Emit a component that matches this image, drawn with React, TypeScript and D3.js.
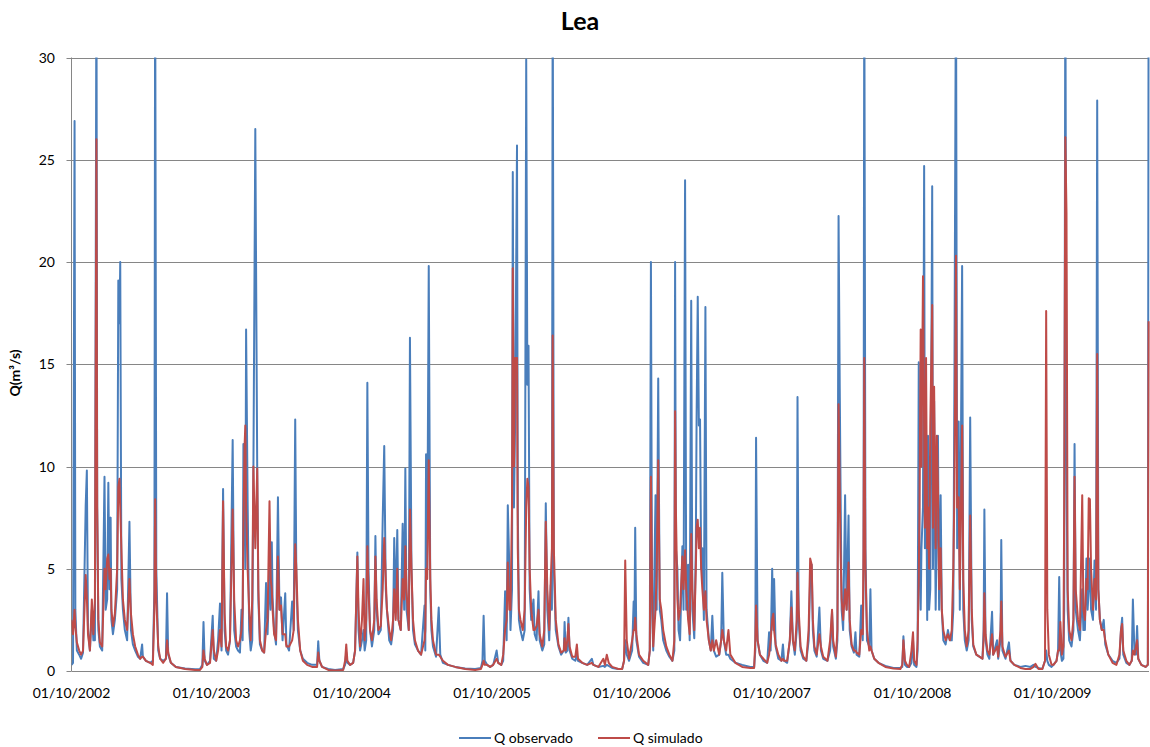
import React from "react";
import * as d3 from "d3";

// Each row: [day counted from 01/10/2002, Q observado (m³/s), Q simulado (m³/s)]
type Row = [number, number, number];

const ano2002_03: Row[] = [
  [0, 0.3, 2.5], [4, 0.4, 1.8], [8, 26.9, 3.0], [10, 3.0, 2.2], [14, 1.0, 1.4],
  [20, 0.8, 1.0], [25, 0.6, 0.8], [30, 0.9, 1.0], [37, 8.1, 4.7], [40, 9.8, 3.6],
  [43, 2.0, 1.8], [48, 1.0, 1.0], [53, 3.0, 3.5], [57, 1.5, 1.8], [61, 1.5, 3.5],
  [65, 35, 26.0], [67, 8.0, 8.0], [70, 2.0, 2.5], [74, 1.2, 1.4], [80, 1.0, 1.2],
  [86, 9.5, 5.0], [89, 3.0, 4.0], [93, 3.5, 5.5], [96, 9.2, 5.7], [99, 4.0, 4.5],
  [102, 7.5, 5.0], [104, 2.5, 3.0], [108, 1.8, 2.2], [113, 2.5, 2.8], [119, 4.0, 5.0],
  [122, 19.1, 9.0], [125, 17.0, 9.4], [127, 20.0, 8.0], [130, 4.5, 6.0], [134, 3.0, 3.5],
  [139, 2.0, 2.5], [145, 1.5, 2.0], [151, 7.3, 4.5], [155, 2.0, 2.8], [160, 1.3, 1.8],
  [166, 1.0, 1.2], [173, 0.7, 0.8], [179, 0.6, 0.6], [184, 1.3, 0.7], [186, 0.7, 0.7],
  [194, 0.5, 0.5], [205, 0.4, 0.4], [212, 0.5, 0.3], [216, 4.0, 3.0], [218, 35, 8.4],
  [221, 5.0, 3.5], [226, 1.0, 1.2], [231, 0.6, 0.6], [239, 0.5, 0.4], [246, 0.6, 0.6],
  [249, 3.8, 1.5], [252, 0.8, 0.9], [259, 0.4, 0.4], [272, 0.2, 0.2], [296, 0.12, 0.1],
  [322, 0.08, 0.05], [335, 0.1, 0.05], [341, 0.3, 0.2], [344, 2.4, 1.0], [347, 0.5, 0.6],
  [353, 0.3, 0.3], [361, 0.5, 0.4],
];

const ano2003_04: Row[] = [
  [368, 2.7, 2.0], [371, 0.6, 1.0], [377, 0.5, 0.5], [382, 1.5, 1.0], [387, 3.3, 2.0],
  [391, 1.0, 1.2], [395, 8.9, 8.3], [399, 2.0, 2.8], [403, 1.0, 1.2], [408, 0.8, 1.0],
  [413, 1.5, 1.5], [420, 11.3, 7.9], [424, 2.0, 3.5], [429, 1.2, 1.5], [434, 1.0, 1.2],
  [439, 0.9, 1.5], [443, 3.0, 2.0], [446, 1.5, 3.0], [448, 11.1, 7.0], [451, 8.0, 11.0],
  [453, 5.0, 12.0], [455, 16.7, 8.0], [459, 8.3, 5.0], [463, 2.0, 3.0], [467, 1.0, 1.5],
  [471, 1.5, 3.5], [474, 9.6, 10.0], [479, 26.5, 6.0], [484, 9.8, 9.9], [487, 3.5, 4.0],
  [491, 1.3, 1.5], [497, 1.0, 1.0], [502, 0.9, 0.9], [507, 4.3, 2.0], [511, 1.8, 2.5],
  [516, 5.0, 8.3], [519, 3.0, 4.5], [522, 6.3, 4.0], [524, 3.6, 3.0], [528, 2.0, 1.8],
  [533, 1.3, 1.5], [538, 8.5, 5.6], [542, 3.0, 3.0], [546, 3.6, 3.2], [550, 1.5, 1.8],
  [557, 3.8, 1.8], [560, 1.3, 1.2], [567, 1.0, 1.2], [575, 3.4, 1.5], [579, 2.0, 2.0],
  [583, 12.3, 6.2], [586, 4.5, 5.0], [590, 2.0, 2.5], [596, 1.0, 1.0], [603, 0.6, 0.5],
  [614, 0.4, 0.3], [627, 0.3, 0.2], [640, 0.3, 0.2], [643, 1.45, 0.9], [646, 0.5, 0.5],
  [653, 0.2, 0.2], [669, 0.1, 0.05], [687, 0.05, 0.03], [708, 0.1, 0.05], [713, 0.3, 0.5],
  [716, 0.9, 1.3], [719, 0.4, 0.5], [726, 0.3, 0.3],
];

const ano2004_05: Row[] = [
  [734, 0.4, 0.4], [739, 1.0, 1.0], [745, 5.8, 5.6], [748, 2.0, 3.0], [752, 1.0, 1.2],
  [757, 1.5, 2.5], [761, 2.0, 4.5], [764, 1.0, 1.5], [768, 1.5, 2.5], [771, 14.1, 6.1],
  [774, 5.0, 4.0], [778, 2.0, 2.0], [783, 1.2, 1.5], [789, 2.0, 2.5], [792, 6.6, 5.6],
  [795, 3.0, 3.5], [800, 1.8, 2.0], [806, 2.0, 2.2], [811, 7.4, 4.0], [815, 11.0, 6.5],
  [819, 4.0, 4.5], [822, 3.0, 3.0], [828, 1.5, 2.0], [833, 1.3, 1.5], [838, 2.0, 2.5],
  [841, 6.5, 4.0], [845, 3.0, 2.5], [849, 6.9, 5.0], [852, 2.5, 2.5], [858, 2.0, 2.0],
  [863, 7.2, 4.5], [867, 3.0, 3.5], [870, 9.9, 6.1], [873, 3.0, 4.0], [879, 2.0, 2.0],
  [882, 16.3, 7.9], [886, 5.0, 5.0], [890, 2.0, 2.5], [895, 1.3, 1.5], [903, 1.0, 1.0],
  [911, 0.8, 0.8], [920, 3.2, 1.5], [922, 1.0, 2.0], [924, 10.6, 5.0], [927, 5.0, 4.5],
  [931, 19.8, 10.3], [935, 4.0, 4.5], [938, 2.0, 2.5], [942, 1.2, 1.5], [950, 0.7, 0.8],
  [957, 3.1, 0.8], [961, 0.8, 0.7], [968, 0.4, 0.5], [981, 0.3, 0.3], [1000, 0.2, 0.2],
  [1026, 0.12, 0.1], [1052, 0.1, 0.05], [1067, 0.15, 0.1], [1071, 0.5, 0.3], [1074, 2.7, 0.5],
  [1077, 0.5, 0.3], [1083, 0.3, 0.3], [1091, 0.2, 0.2],
];

const ano2005_06: Row[] = [
  [1099, 0.3, 0.3], [1108, 1.0, 0.6], [1112, 0.4, 0.4], [1120, 0.3, 0.3], [1125, 0.5, 0.8],
  [1130, 3.9, 2.0], [1134, 1.5, 2.5], [1137, 8.1, 5.3], [1141, 5.0, 3.0], [1144, 2.0, 3.0],
  [1148, 4.0, 8.0], [1150, 24.4, 19.7], [1153, 8.0, 10.0], [1156, 12.0, 15.3], [1161, 25.7, 15.3],
  [1163, 8.0, 6.0], [1166, 2.5, 3.0], [1170, 2.0, 2.5], [1176, 1.5, 2.0], [1181, 2.0, 3.0],
  [1185, 29.9, 8.0], [1188, 14.0, 9.4], [1191, 15.9, 9.0], [1194, 4.0, 5.0], [1198, 2.5, 3.0],
  [1204, 3.5, 2.0], [1207, 1.8, 2.0], [1212, 1.5, 2.2], [1217, 3.9, 3.0], [1220, 1.5, 1.8],
  [1227, 1.0, 1.2], [1232, 1.3, 2.0], [1236, 8.2, 7.3], [1240, 3.0, 4.0], [1245, 1.5, 2.0],
  [1249, 4.2, 4.5], [1252, 3.0, 6.0], [1254, 35, 16.4], [1257, 5.0, 6.0], [1262, 2.0, 2.5],
  [1269, 1.2, 1.3], [1276, 0.8, 0.9], [1283, 1.0, 1.0], [1285, 2.4, 1.6], [1288, 0.9, 1.0],
  [1292, 1.0, 1.5], [1295, 2.6, 2.3], [1298, 1.0, 1.2], [1305, 0.6, 0.7], [1313, 0.5, 0.7],
  [1317, 0.8, 1.3], [1320, 0.5, 0.6], [1331, 0.4, 0.4], [1344, 0.3, 0.3], [1356, 0.6, 0.4],
  [1360, 0.3, 0.3], [1373, 0.2, 0.2], [1386, 0.25, 0.6], [1390, 0.2, 0.3], [1395, 0.3, 0.8],
  [1400, 0.25, 0.4], [1409, 0.15, 0.2], [1425, 0.1, 0.1], [1435, 0.1, 0.1], [1440, 0.5, 0.5],
  [1443, 1.5, 5.4], [1447, 0.8, 1.5], [1453, 0.5, 0.6],
];

const ano2006_07: Row[] = [
  [1461, 1.0, 1.5], [1465, 3.4, 2.0], [1467, 2.0, 2.0], [1469, 7.0, 2.6], [1472, 1.5, 1.8],
  [1479, 0.7, 0.8], [1490, 0.4, 0.5], [1503, 0.3, 0.3], [1507, 1.0, 1.0], [1510, 20.0, 9.5],
  [1513, 3.0, 4.0], [1516, 1.0, 1.2], [1522, 8.6, 3.0], [1525, 3.0, 5.0], [1529, 14.3, 10.3],
  [1533, 3.0, 3.5], [1537, 2.5, 3.0], [1542, 1.5, 2.0], [1550, 1.0, 1.2], [1558, 0.7, 0.8],
  [1566, 0.5, 0.5], [1571, 1.0, 1.5], [1573, 20.0, 12.7], [1575, 6.0, 8.0], [1579, 5.0, 3.5],
  [1582, 2.0, 2.5], [1586, 1.5, 3.0], [1592, 6.1, 5.6], [1595, 3.0, 4.0], [1599, 24.0, 5.9],
  [1602, 3.0, 4.0], [1607, 5.2, 2.5], [1611, 1.5, 1.8], [1615, 18.1, 6.7], [1618, 3.0, 4.0],
  [1623, 1.6, 2.0], [1627, 6.0, 5.0], [1629, 12.3, 7.0], [1632, 18.3, 7.4], [1635, 12.0, 6.0],
  [1638, 12.3, 7.0], [1641, 5.0, 5.0], [1644, 6.0, 4.0], [1648, 2.5, 3.0], [1652, 17.8, 3.9],
  [1655, 3.0, 2.5], [1661, 1.5, 1.5], [1666, 1.0, 1.0], [1670, 2.7, 1.5], [1674, 1.0, 1.0],
  [1680, 0.7, 1.5], [1688, 0.8, 0.8], [1693, 1.5, 1.5], [1696, 4.8, 2.0], [1700, 1.5, 1.5],
  [1706, 0.8, 1.0], [1712, 0.8, 2.0], [1717, 0.6, 0.8], [1730, 0.4, 0.4], [1748, 0.3, 0.2],
  [1769, 0.2, 0.15], [1779, 0.2, 0.15], [1782, 1.0, 1.5], [1784, 11.4, 3.2], [1788, 1.5, 1.5],
  [1794, 0.8, 0.8], [1803, 0.5, 0.6], [1813, 0.4, 0.4], [1818, 1.9, 0.8], [1822, 1.0, 1.5],
];

const ano2007_08: Row[] = [
  [1826, 5.0, 2.5], [1829, 2.0, 2.8], [1831, 4.5, 2.0], [1835, 1.2, 1.3], [1842, 0.6, 0.8],
  [1850, 0.5, 0.5], [1854, 1.3, 0.6], [1857, 0.5, 0.5], [1865, 0.4, 0.5], [1872, 1.5, 1.5],
  [1876, 3.9, 3.1], [1880, 1.5, 1.5], [1885, 0.8, 1.0], [1890, 2.0, 2.5], [1892, 13.4, 4.8],
  [1895, 2.5, 3.0], [1900, 1.0, 1.2], [1907, 0.6, 0.7], [1915, 0.5, 0.5], [1921, 1.5, 2.0],
  [1925, 4.5, 5.5], [1929, 5.2, 5.2], [1932, 2.0, 2.5], [1936, 1.0, 1.2], [1942, 0.7, 0.8],
  [1949, 3.1, 1.8], [1953, 1.0, 1.2], [1959, 0.6, 0.7], [1970, 0.5, 0.5], [1977, 1.0, 1.5],
  [1982, 2.9, 3.0], [1985, 1.2, 1.5], [1992, 0.6, 0.7], [1996, 1.5, 2.0], [1999, 22.25, 13.05],
  [2002, 14.0, 9.0], [2004, 9.3, 6.0], [2007, 3.0, 3.5], [2011, 2.0, 2.5], [2016, 8.6, 4.0],
  [2020, 3.0, 3.0], [2025, 7.6, 5.3], [2028, 2.0, 2.5], [2033, 1.2, 1.3], [2039, 0.9, 1.0],
  [2043, 1.9, 1.0], [2046, 0.8, 0.9], [2053, 0.7, 0.8], [2058, 3.2, 2.0], [2062, 1.5, 1.8],
  [2064, 4.0, 6.0], [2066, 35, 15.3], [2069, 6.0, 5.0], [2073, 1.5, 2.0], [2079, 1.2, 1.0],
  [2082, 4.0, 1.2], [2085, 1.0, 1.0], [2092, 0.6, 0.6], [2103, 0.4, 0.4], [2121, 0.25, 0.2],
  [2142, 0.15, 0.12], [2160, 0.15, 0.1], [2165, 0.2, 0.3], [2168, 1.7, 1.5], [2172, 0.3, 0.5],
  [2177, 0.2, 0.3], [2183, 0.2, 0.2], [2189, 0.4, 1.0],
];

const ano2008_09: Row[] = [
  [2193, 1.5, 1.9], [2196, 0.3, 0.5], [2202, 0.2, 0.3], [2205, 1.0, 1.5], [2208, 15.1, 4.5],
  [2210, 5.0, 8.0], [2213, 3.0, 16.7], [2215, 6.0, 10.0], [2219, 8.0, 19.3], [2222, 24.7, 12.0],
  [2224, 6.0, 7.0], [2227, 11.4, 15.3], [2230, 2.5, 6.0], [2232, 11.5, 8.0], [2235, 3.0, 5.0],
  [2238, 4.0, 12.0], [2243, 23.7, 17.9], [2245, 5.0, 7.0], [2248, 13.2, 13.9], [2252, 3.0, 6.0],
  [2255, 7.0, 11.5], [2258, 11.5, 9.0], [2261, 3.0, 4.0], [2265, 8.6, 6.0], [2268, 3.0, 3.0],
  [2272, 1.5, 2.0], [2278, 1.3, 1.5], [2284, 2.0, 1.8], [2289, 1.5, 1.5], [2294, 1.5, 2.0],
  [2298, 3.0, 5.0], [2301, 14.6, 9.0], [2305, 35, 20.3], [2308, 6.0, 8.0], [2312, 12.2, 8.5],
  [2315, 3.0, 4.0], [2321, 19.8, 12.0], [2324, 3.0, 4.5], [2328, 1.5, 2.0], [2333, 1.0, 1.2],
  [2338, 1.5, 2.0], [2342, 12.4, 7.6], [2346, 2.5, 3.0], [2350, 1.2, 1.3], [2358, 0.8, 0.8],
  [2366, 0.7, 0.7], [2374, 0.6, 0.6], [2377, 2.0, 1.5], [2379, 7.9, 3.8], [2382, 1.5, 1.8],
  [2387, 0.8, 1.0], [2392, 0.6, 0.8], [2399, 2.9, 1.8], [2402, 0.8, 0.8], [2412, 1.5, 1.2],
  [2415, 0.6, 0.7], [2421, 1.5, 2.0], [2423, 6.4, 3.4], [2426, 1.0, 1.2], [2434, 0.6, 0.7],
  [2443, 1.4, 1.0], [2447, 0.5, 0.5], [2457, 0.3, 0.3], [2473, 0.2, 0.15], [2486, 0.25, 0.1],
  [2499, 0.2, 0.1], [2507, 0.3, 0.2], [2512, 0.2, 0.35], [2520, 0.15, 0.1], [2530, 0.1, 0.1],
  [2537, 0.5, 0.5], [2540, 1.0, 17.6], [2543, 0.5, 3.0], [2547, 0.3, 0.8], [2554, 0.2, 0.3],
];

const ano2009_10: Row[] = [
  [2559, 0.3, 0.3], [2567, 0.5, 0.5], [2571, 1.0, 1.0], [2574, 4.6, 1.0], [2577, 1.0, 2.4],
  [2581, 0.5, 0.8], [2585, 0.6, 1.2], [2587, 3.0, 8.0], [2590, 35, 26.1], [2593, 10.0, 22.4],
  [2596, 3.0, 4.0], [2600, 1.5, 2.0], [2606, 1.2, 1.5], [2611, 2.0, 2.5], [2614, 11.1, 9.5],
  [2617, 3.0, 4.0], [2623, 2.0, 2.5], [2628, 1.5, 2.0], [2634, 4.0, 8.6], [2637, 2.0, 3.0],
  [2641, 2.0, 2.5], [2645, 5.5, 4.5], [2648, 3.0, 4.0], [2651, 4.0, 8.45], [2654, 5.5, 8.4],
  [2657, 3.0, 5.0], [2662, 2.5, 3.0], [2666, 5.4, 4.5], [2670, 3.0, 3.5], [2673, 27.9, 15.5],
  [2676, 4.0, 4.0], [2680, 2.5, 2.5], [2685, 2.0, 2.0], [2690, 2.5, 2.0], [2694, 1.3, 1.5],
  [2702, 0.8, 0.8], [2713, 0.5, 0.4], [2723, 0.4, 0.3], [2731, 0.6, 0.8], [2735, 2.0, 2.0],
  [2738, 2.6, 2.3], [2741, 0.8, 1.0], [2749, 0.4, 0.5], [2757, 0.3, 0.3], [2763, 0.5, 0.5],
  [2766, 3.5, 1.0], [2770, 1.0, 0.8], [2774, 0.8, 1.2], [2777, 2.2, 1.5], [2780, 0.6, 0.6],
  [2788, 0.3, 0.3], [2799, 0.2, 0.2], [2805, 0.3, 0.3], [2807, 35, 17.1],
];

const registos: Row[] = [
  ...ano2002_03, ...ano2003_04, ...ano2004_05, ...ano2005_06,
  ...ano2006_07, ...ano2007_08, ...ano2008_09, ...ano2009_10,
];

const inicio = Date.UTC(2002, 9, 1);
const ultimoDia = 2808;
const yTicks = [0, 5, 10, 15, 20, 25, 30];
const xTickDates = [
  "2002-10-01", "2003-10-01", "2004-10-01", "2005-10-01",
  "2006-10-01", "2007-10-01", "2008-10-01", "2009-10-01",
];
const seriesInfo = [
  { key: "obs", nome: "Q observado", cor: "#4A7EBB", col: 1 },
  { key: "sim", nome: "Q simulado", cor: "#BE4B48", col: 2 },
];

const W = 1150;
const H = 747;
const plot = { left: 71.5, right: 1149, top: 57.5, bottom: 671 };
const FONT = "Lato, 'Open Sans', sans-serif";
const GRID = "#868686";

const toDate = (d: number) => new Date(inicio + d * 86400000);

export default function App() {
  const x = d3
    .scaleUtc()
    .domain([toDate(0), toDate(ultimoDia)])
    .range([plot.left, plot.right]);
  const y = d3.scaleLinear().domain([0, 30]).range([plot.bottom, plot.top]);
  const fmt = d3.utcFormat("%d/%m/%Y");

  const paths = seriesInfo.map((s) => {
    const line = d3
      .line<Row>()
      .x((r) => x(toDate(r[0])))
      .y((r) => y(r[s.col]));
    return { ...s, d: line(registos) || "" };
  });

  return (
    <svg
      width={W}
      height={H}
      style={{ position: "absolute", left: 0, top: 0, background: "#fff" }}
      fontFamily={FONT}
    >
      <defs>
        <clipPath id="area-grafico">
          <rect x={plot.left} y={plot.top} width={plot.right - plot.left + 1} height={plot.bottom - plot.top} />
        </clipPath>
      </defs>

      <text x={580} y={30} textAnchor="middle" fontSize={25} fontWeight="bold" fill="#000">
        Lea
      </text>

      {/* horizontal gridlines and y ticks */}
      {yTicks.map((t) => (
        <g key={t}>
          {t > 0 && (
            <line x1={plot.left} x2={plot.right} y1={Math.round(y(t)) + 0.5} y2={Math.round(y(t)) + 0.5} stroke={GRID} strokeWidth={1} />
          )}
          <line x1={plot.left - 5} x2={plot.left} y1={Math.round(y(t)) + 0.5} y2={Math.round(y(t)) + 0.5} stroke={GRID} strokeWidth={1} />
          <text x={55} y={y(t) + 5} textAnchor="end" fontSize={14} fill="#000">
            {t}
          </text>
        </g>
      ))}

      {/* axes lines */}
      <line x1={plot.left} x2={plot.left} y1={plot.top} y2={plot.bottom} stroke={GRID} strokeWidth={1} />
      <line x1={plot.left} x2={plot.right} y1={plot.bottom + 0.5} y2={plot.bottom + 0.5} stroke={GRID} strokeWidth={1} />

      {xTickDates.map((s) => {
        const dt = new Date(s + "T00:00:00Z");
        return (
          <text key={s} x={x(dt)} y={698} textAnchor="middle" fontSize={14} fill="#000">
            {fmt(dt)}
          </text>
        );
      })}

      <text
        transform={`translate(20, 373) rotate(-90)`}
        textAnchor="middle"
        fontSize={14}
        fontWeight="bold"
        fill="#000"
      >
        Q(m³/s)
      </text>

      <g clipPath="url(#area-grafico)">
        {paths.map((p) => (
          <path key={p.key} d={p.d} fill="none" stroke={p.cor} strokeWidth={2} strokeLinejoin="round" />
        ))}
      </g>

      {/* legend */}
      <g>
        <line x1={459} x2={491} y1={738} y2={738} stroke={seriesInfo[0].cor} strokeWidth={2} />
        <text x={494} y={743} fontSize={14} fill="#000">
          {seriesInfo[0].nome}
        </text>
        <line x1={598} x2={630} y1={738} y2={738} stroke={seriesInfo[1].cor} strokeWidth={2} />
        <text x={633} y={743} fontSize={14} fill="#000">
          {seriesInfo[1].nome}
        </text>
      </g>
    </svg>
  );
}
